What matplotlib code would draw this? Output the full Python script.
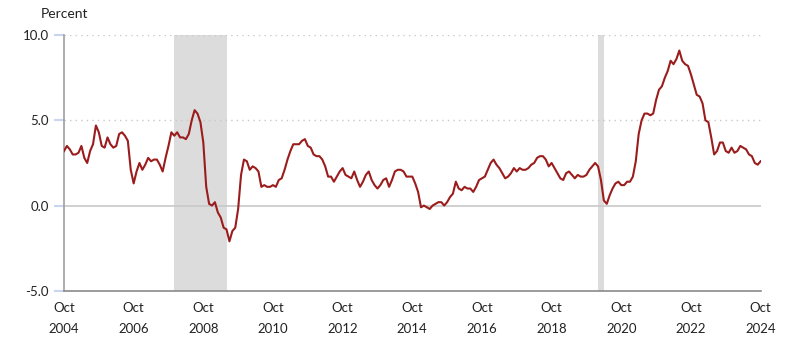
import matplotlib
matplotlib.use("Agg")
import matplotlib.pyplot as plt

# 12-month percent change, monthly, Oct 2004 .. Oct 2024
start_year, start_month = 2004, 10
values = [
    3.2, 3.5, 3.3,
    3.0, 3.0, 3.1, 3.5, 2.8, 2.5, 3.2, 3.6, 4.7, 4.3, 3.5, 3.4,
    4.0, 3.6, 3.4, 3.5, 4.2, 4.3, 4.1, 3.8, 2.1, 1.3, 2.0, 2.5,
    2.1, 2.4, 2.8, 2.6, 2.7, 2.7, 2.4, 2.0, 2.8, 3.5, 4.3, 4.1,
    4.3, 4.0, 4.0, 3.9, 4.2, 5.0, 5.6, 5.4, 4.9, 3.7, 1.1, 0.1,
    0.0, 0.2, -0.4, -0.7, -1.3, -1.4, -2.1, -1.5, -1.3, -0.2, 1.8, 2.7,
    2.6, 2.1, 2.3, 2.2, 2.0, 1.1, 1.2, 1.1, 1.1, 1.2, 1.1, 1.5,
    1.6, 2.1, 2.7, 3.2, 3.6, 3.6, 3.6, 3.8, 3.9, 3.5, 3.4, 3.0,
    2.9, 2.9, 2.7, 2.3, 1.7, 1.7, 1.4, 1.7, 2.0, 2.2, 1.8, 1.7,
    1.6, 2.0, 1.5, 1.1, 1.4, 1.8, 2.0, 1.5, 1.2, 1.0, 1.2, 1.5,
    1.6, 1.1, 1.5, 2.0, 2.1, 2.1, 2.0, 1.7, 1.7, 1.7, 1.3, 0.8,
    -0.1, 0.0, -0.1, -0.2, 0.0, 0.1, 0.2, 0.2, 0.0, 0.2, 0.5, 0.7,
    1.4, 1.0, 0.9, 1.1, 1.0, 1.0, 0.8, 1.1, 1.5, 1.6, 1.7, 2.1,
    2.5, 2.7, 2.4, 2.2, 1.9, 1.6, 1.7, 1.9, 2.2, 2.0, 2.2, 2.1,
    2.1, 2.2, 2.4, 2.5, 2.8, 2.9, 2.9, 2.7, 2.3, 2.5, 2.2, 1.9,
    1.6, 1.5, 1.9, 2.0, 1.8, 1.6, 1.8, 1.7, 1.7, 1.8, 2.1, 2.3,
    2.5, 2.3, 1.5, 0.3, 0.1, 0.6, 1.0, 1.3, 1.4, 1.2, 1.2, 1.4,
    1.4, 1.7, 2.6, 4.2, 5.0, 5.4, 5.4, 5.3, 5.4, 6.2, 6.8, 7.0,
    7.5, 7.9, 8.5, 8.3, 8.6, 9.1, 8.5, 8.3, 8.2, 7.7, 7.1, 6.5,
    6.4, 6.0, 5.0, 4.9, 4.0, 3.0, 3.2, 3.7, 3.7, 3.2, 3.1, 3.4,
    3.1, 3.2, 3.5, 3.4, 3.3, 3.0, 2.9, 2.5, 2.4, 2.6,
]

# recessions as (start, end) in (year, month)
recessions = [((2007, 12), (2009, 6)), ((2020, 2), (2020, 4))]

tick_years = list(range(2004, 2025, 2))
y_ticks = [-5.0, 0.0, 5.0, 10.0]


def month_index(year, month):
    return (year - start_year) * 12 + (month - start_month)


x = list(range(len(values)))

plt.rcParams['font.family'] = ['Lato', 'DejaVu Sans']

fig = plt.figure(figsize=(8.1, 3.52), dpi=100)
ax = fig.add_axes([0.079, 0.174, 0.860, 0.726])

for (y0, m0), (y1, m1) in recessions:
    ax.axvspan(month_index(y0, m0), month_index(y1, m1), color='#dcdcdc', lw=0, zorder=0)

for yv in [5.0, 10.0]:
    ax.axhline(yv, color='#c8c8c8', lw=1, linestyle=(0, (1, 3)), zorder=1)
ax.axhline(0, color='#c8c8c8', lw=1.2, zorder=1)

ax.plot(x, values, color='#9b1c1c', lw=1.5, zorder=3)

ax.set_xlim(0, len(values) - 1)
ax.set_ylim(-5, 10)

ax.set_yticks(y_ticks)
ax.set_yticklabels([f'{v:.1f}' for v in y_ticks], fontsize=9.5, color='#222222')
ax.tick_params(axis='y', length=7, width=1.5, color='#c9d5ee', pad=4)

ax.set_xticks([month_index(yr, 10) for yr in tick_years])
ax.set_xticklabels([f'Oct\n{yr}' for yr in tick_years], fontsize=9.5,
                   color='#222222', linespacing=1.95)
ax.tick_params(axis='x', length=0, pad=8)

for side in ['top', 'right']:
    ax.spines[side].set_visible(False)
ax.spines['left'].set_color('#a0a0a0')
ax.spines['left'].set_linewidth(1.2)
ax.spines['bottom'].set_color('#8a8a8a')
ax.spines['bottom'].set_linewidth(1.2)

fig.text(41 / 810, 1 - 14 / 352, 'Percent', fontsize=10, color='#222222', va='center')

fig.savefig('out.png', dpi=100)
